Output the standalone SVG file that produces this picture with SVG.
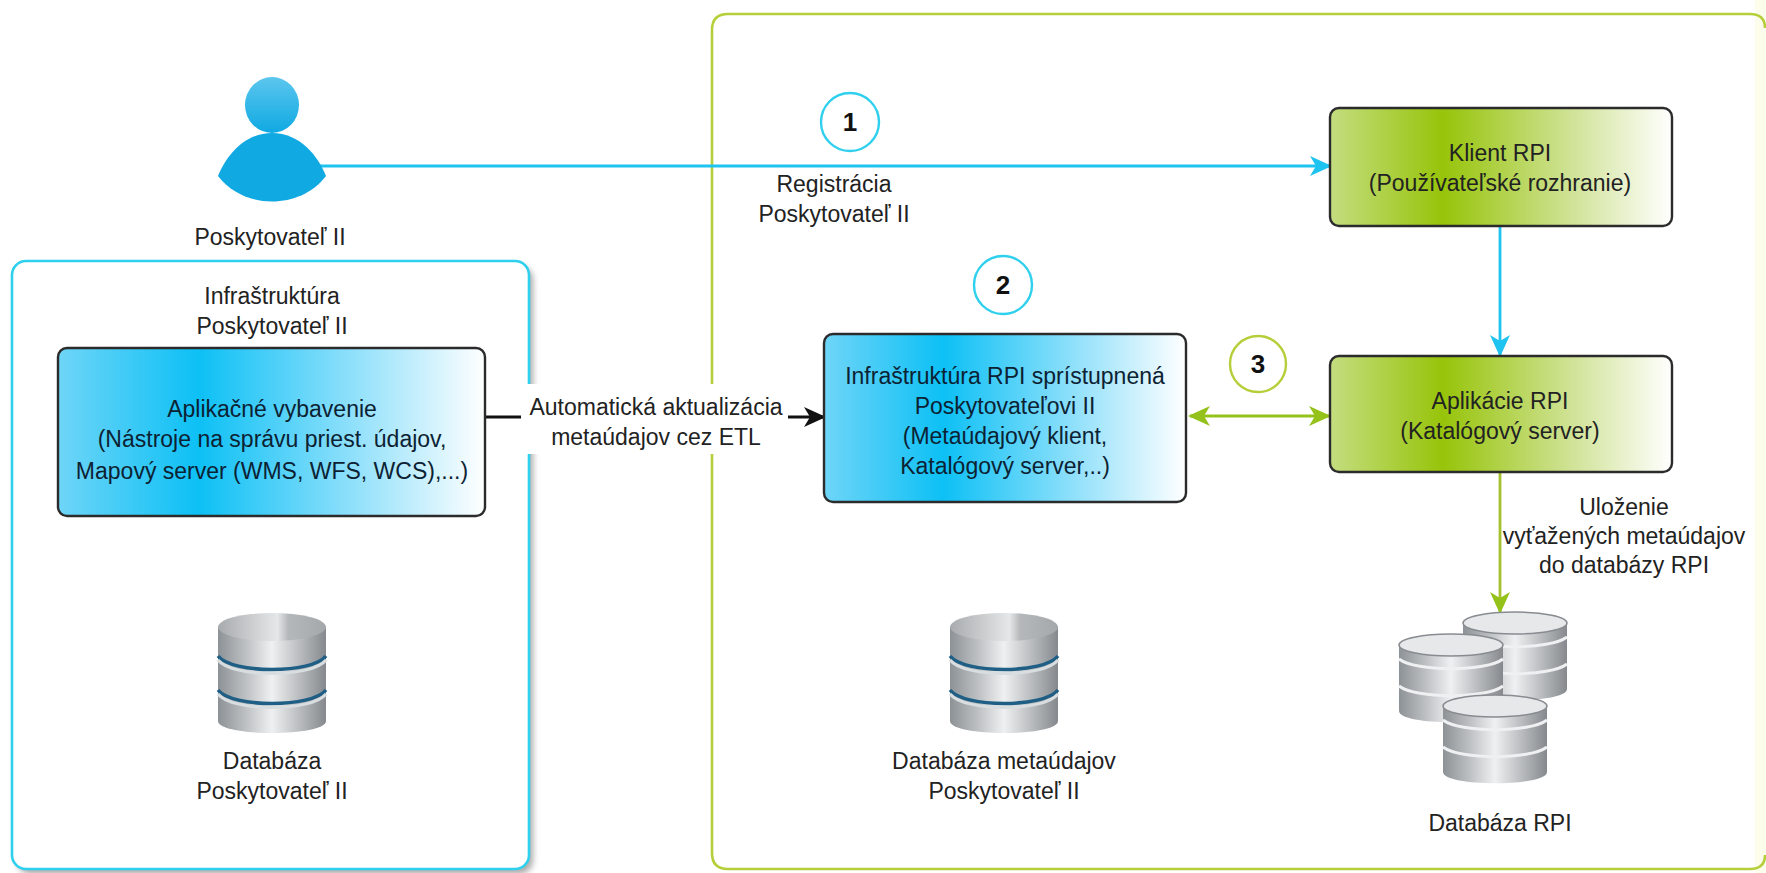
<svg xmlns="http://www.w3.org/2000/svg" width="1766" height="873" viewBox="0 0 1766 873">
<style>
text{font-family:"Liberation Sans",Arial,sans-serif;font-size:23px;fill:#222;text-anchor:middle}
.dk{fill:#0c2233}
.num{font-size:26px;font-weight:bold;fill:#111}
.box{stroke:#2b2b2b;stroke-width:2.4}
.blue{fill:url(#gB)}
.green{fill:url(#gG)}
.c{fill:none;stroke-width:2.8}
</style>
<defs>
<linearGradient id="gB"><stop offset="0" stop-color="#6fd5f7"/><stop offset=".33" stop-color="#0dc0f5"/><stop offset=".7" stop-color="#93e1fb"/><stop offset="1" stop-color="#fff"/></linearGradient>
<linearGradient id="gG"><stop offset="0" stop-color="#c4dd80"/><stop offset=".33" stop-color="#97c40a"/><stop offset=".7" stop-color="#cfe294"/><stop offset="1" stop-color="#fff"/></linearGradient>
<linearGradient id="gP" x1="0" y1="0" x2="0" y2="1"><stop offset="0" stop-color="#5cc6ee"/><stop offset="1" stop-color="#0fa9e2"/></linearGradient>
<linearGradient id="gM"><stop offset="0" stop-color="#8d9296"/><stop offset=".25" stop-color="#bcbfc2"/><stop offset=".5" stop-color="#eff0f1"/><stop offset=".8" stop-color="#b0b3b6"/><stop offset="1" stop-color="#85898d"/></linearGradient>
<linearGradient id="gT"><stop offset="0" stop-color="#a8abae"/><stop offset=".55" stop-color="#e6e7e8"/><stop offset=".65" stop-color="#b5b8ba"/><stop offset="1" stop-color="#a5a8ab"/></linearGradient>
<filter id="sh" x="-5%" y="-5%" width="110%" height="110%"><feGaussianBlur stdDeviation="3"/></filter>
<marker id="aC" markerWidth="22" markerHeight="22" refX="20" refY="11" orient="auto-start-reverse" markerUnits="userSpaceOnUse"><path d="M0 1L22 11L0 21L6 11Z" fill="#1fc3f0"/></marker>
<marker id="aG" markerWidth="22" markerHeight="22" refX="20" refY="11" orient="auto-start-reverse" markerUnits="userSpaceOnUse"><path d="M0 1L22 11L0 21L6 11Z" fill="#94c11a"/></marker>
<marker id="aK" markerWidth="22" markerHeight="22" refX="20" refY="11" orient="auto-start-reverse" markerUnits="userSpaceOnUse"><path d="M0 1L22 11L0 21L6 11Z" fill="#111"/></marker>
<g id="disk">
<path d="M-54 -46V48C-54 64 54 64 54 48V-46Z" fill="url(#gM)"/>
<ellipse cx="0" cy="-46" rx="54" ry="14" fill="url(#gT)"/>
<path d="M-54 -17C-40 1 40 1 54 -17" fill="none" stroke="#1f5f86" stroke-width="3.5"/>
<path d="M-54 -13C-40 5 40 5 54 -13" fill="none" stroke="#d8dde0" stroke-width="3"/>
<path d="M-54 17C-40 35 40 35 54 17" fill="none" stroke="#1f5f86" stroke-width="3.5"/>
<path d="M-54 21C-40 39 40 39 54 21" fill="none" stroke="#d8dde0" stroke-width="3"/>
</g>
<g id="stack">
<path d="M-52 -38V28C-52 43 52 43 52 28V-38Z" fill="url(#gM)"/>
<path d="M-52 -24C-35 -11 35 -11 52 -24M-52 3C-35 16 35 16 52 3" fill="none" stroke="#eef0f1" stroke-width="3"/>
<ellipse cx="0" cy="-38" rx="52" ry="11" fill="#e6e8ea" stroke="#888c90" stroke-width="1.5"/>
</g>
</defs>
<rect width="1766" height="873" fill="#fff"/>
<g id="container-provider">
<rect x="17" y="266" width="516" height="608" rx="14" fill="#aaa" filter="url(#sh)"/>
<rect x="12" y="261" width="517" height="608" rx="14" fill="#fff" stroke="#2fd0ee" stroke-width="2.6"/>
<text x="272" y="304">Infraštruktúra</text>
<text x="272" y="334">Poskytovateľ II</text>
</g>
<g id="container-rpi">
<rect x="712" y="14" width="1053" height="855" rx="16" fill="#fff"/>
<rect x="1755" y="0" width="11" height="873" fill="#fdfdec"/>
<path d="M1765 28Q1765 14 1750 14H728Q712 14 712 30V853Q712 869 728 869H1750Q1765 869 1765 855" fill="none" stroke="#b5cf3a" stroke-width="2.6"/>
</g>
<g id="connectors">
<path class="c" d="M320 166H1330" stroke="#1fc3f0" marker-end="url(#aC)"/>
<path class="c" d="M1500 226V355" stroke="#1fc3f0" marker-end="url(#aC)"/>
<path class="c" d="M486 417H824" stroke="#111" marker-end="url(#aK)"/>
<path class="c" d="M1190 416H1329" stroke="#94c11a" marker-start="url(#aG)" marker-end="url(#aG)"/>
<path class="c" d="M1500 472V612" stroke="#a5c12e" marker-end="url(#aG)"/>
<rect x="521" y="384" width="267" height="70" fill="#fff"/>
</g>
<g id="provider">
<ellipse cx="272" cy="105" rx="27" ry="28" fill="url(#gP)"/>
<path d="M272 133C300 133 318 156 326 176C300 210 244 210 218 176C226 156 244 133 272 133Z" fill="#10a9e2"/>
<text x="270" y="245">Poskytovateľ II</text>
</g>
<g id="badge-1"><circle cx="850" cy="122" r="29" fill="#fff" stroke="#2fd0ee" stroke-width="2.4"/><text class="num" x="850" y="131">1</text></g>
<g id="badge-2"><circle cx="1003" cy="285" r="29" fill="#fff" stroke="#2fd0ee" stroke-width="2.4"/><text class="num" x="1003" y="294">2</text></g>
<g id="badge-3"><circle cx="1258" cy="364" r="28" fill="#fff" stroke="#b5cf3a" stroke-width="2.4"/><text class="num" x="1258" y="373">3</text></g>
<g id="label-reg"><text x="834" y="192">Registrácia</text><text x="834" y="222">Poskytovateľ II</text></g>
<g id="klient"><rect class="box green" x="1330" y="108" width="342" height="118" rx="9"/><text x="1500" y="161">Klient RPI</text><text x="1500" y="191">(Používateľské rozhranie)</text></g>
<g id="aplikacie"><rect class="box green" x="1330" y="356" width="342" height="116" rx="9"/><text x="1500" y="409">Aplikácie RPI</text><text x="1500" y="439">(Katalógový server)</text></g>
<g id="infra-rpi"><rect class="box blue" x="824" y="334" width="362" height="168" rx="9"/><text class="dk" x="1005" y="384">Infraštruktúra RPI sprístupnená</text><text class="dk" x="1005" y="414">Poskytovateľovi II</text><text class="dk" x="1005" y="444">(Metaúdajový klient,</text><text class="dk" x="1005" y="474">Katalógový server,..)</text></g>
<g id="aplikacne"><rect class="box blue" x="58" y="348" width="427" height="168" rx="9"/><text class="dk" x="272" y="417">Aplikačné vybavenie</text><text class="dk" x="272" y="447">(Nástroje na správu priest. údajov,</text><text class="dk" x="272" y="479">Mapový server (WMS, WFS, WCS),...)</text></g>
<g id="label-etl"><text x="656" y="415">Automatická aktualizácia</text><text x="656" y="445">metaúdajov cez ETL</text></g>
<g id="label-ulozenie"><text x="1624" y="515">Uloženie</text><text x="1624" y="544">vyťažených metaúdajov</text><text x="1624" y="573">do databázy RPI</text></g>
<g id="db-provider"><use href="#disk" x="272" y="673"/><text x="272" y="769">Databáza</text><text x="272" y="799">Poskytovateľ II</text></g>
<g id="db-meta"><use href="#disk" x="1004" y="673"/><text x="1004" y="769">Databáza metaúdajov</text><text x="1004" y="799">Poskytovateľ II</text></g>
<g id="db-rpi">
<use href="#stack" x="1515" y="661"/><use href="#stack" x="1451" y="683"/><use href="#stack" x="1495" y="744"/>
<text x="1500" y="831">Databáza RPI</text>
</g>
</svg>
